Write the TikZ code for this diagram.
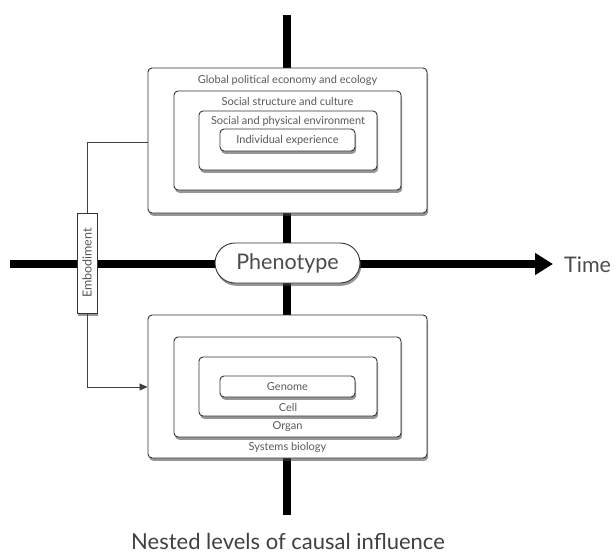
\documentclass[tikz,border=0pt]{standalone}
\usepackage{fontspec}
\setmainfont{Lato}
\usetikzlibrary{arrows.meta,shadows}
\begin{document}
\begin{tikzpicture}[x=1pt,y=-1pt,
  box/.style={draw=black!80, line width=0.9pt, fill=white, rounded corners=4pt,
    drop shadow={shadow xshift=1.2pt, shadow yshift=-2.8pt, opacity=0.55, fill=black!75}},
  lbl/.style={text=black!65, font=\fontsize{11}{12}\selectfont, inner sep=0pt},
  big/.style={text=black!70, font=\fontsize{21.5}{24}\selectfont, inner sep=0pt},
  axis/.style={line width=7.5pt, black},
  conn/.style={draw=black!75, line width=0.8pt}
]
\useasboundingbox (0,0) rectangle (616,554);
% axes
\coordinate (vtop) at (287,15);
\coordinate (vbot) at (287,515);
\coordinate (hleft) at (10,264);
\coordinate (htip) at (553,264);
\draw[axis] (vtop) -- (vbot);
\draw[axis, -{Triangle[length=18pt,width=21pt]}] (hleft) -- (htip);
\node[big, anchor=west] (time) at (564,265) {Time};
% top nest
\node[box, minimum width=279pt, minimum height=145pt] (global) at (287.5,140.5) {};
\node[box, minimum width=227pt, minimum height=99pt] (social) at (287.5,140.5) {};
\node[box, minimum width=178pt, minimum height=59pt] (env) at (288,140.5) {};
\node[box, minimum width=135pt, minimum height=22pt] (indiv) at (287.5,140) {};
\node[lbl] (tglobal) at (287.5,80) {Global political economy and ecology};
\node[lbl] (tsocial) at (287.5,101) {Social structure and culture};
\node[lbl] (tenv) at (288,121) {Social and physical environment};
\node[lbl] (tindiv) at (287.5,140.5) {Individual experience};
% bottom nest
\node[box, minimum width=279pt, minimum height=143pt] (sys) at (287.5,386.5) {};
\node[box, minimum width=227pt, minimum height=100pt] (organ) at (287.5,387) {};
\node[box, minimum width=178pt, minimum height=59pt] (cell) at (288,386.5) {};
\node[box, minimum width=135pt, minimum height=21pt] (genome) at (287.5,386.5) {};
\node[lbl] (tgenome) at (287.5,387) {Genome};
\node[lbl] (tcell) at (288,407) {Cell};
\node[lbl] (torgan) at (287.5,427) {Organ};
\node[lbl] (tsys) at (287.5,447) {Systems biology};
% phenotype
\node[box, rounded corners=20pt, minimum width=145pt, minimum height=40pt, big] (pheno) at (287.5,263) {Phenotype};
% embodiment
\node[box, rounded corners=0pt, minimum width=100pt, minimum height=20pt, rotate=90, lbl, font=\fontsize{12.5}{13}\selectfont] (emb) at (87,263) {Embodiment};
% connectors
\coordinate (ctop) at (87,142);
\coordinate (cbot) at (87,387);
\draw[conn] (emb.east) -- (ctop) -- (global.west |- ctop);
\draw[conn, -{Triangle[length=8pt,width=7pt]}] (emb.west) -- (cbot) -- (sys.west |- cbot);
% caption
\node[big, text=black!75, font=\fontsize{22}{24}\selectfont] (caption) at (288,541) {Nested levels of causal influence};
\end{tikzpicture}
\end{document}
